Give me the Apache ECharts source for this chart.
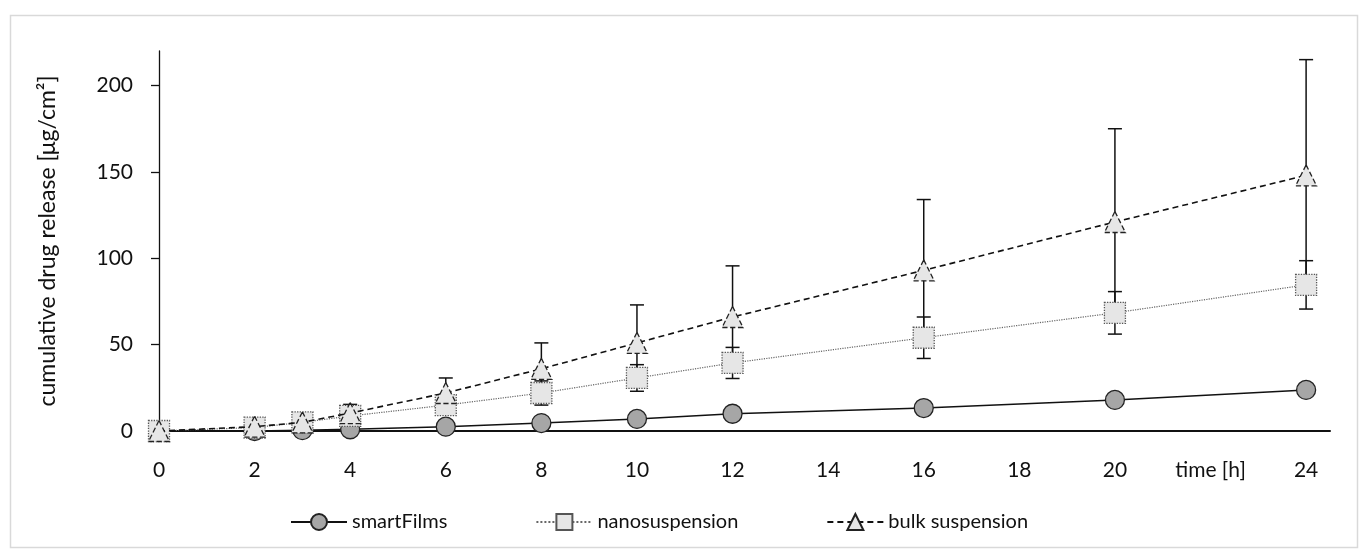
<!DOCTYPE html>
<html>
<head>
<meta charset="utf-8">
<script src="https://cdn.jsdelivr.net/npm/echarts@6/dist/echarts.min.js"></script>
<style>
html,body{margin:0;padding:0;background:#fff;}
#chart{width:1363px;height:558px;}
</style>
</head>
<body>
<div id="chart"></div>
<script>
// ---- data ----
const times = [0, 2, 3, 4, 6, 8, 10, 12, 16, 20, 24];
const smartFilms = [0, 0, 0.5, 1, 2.5, 4.6, 7, 10, 13.3, 18, 23.8];
const nanosuspension = [0, 2, 5, 8.7, 15, 22, 30.7, 39.4, 54, 68.4, 84.6];
const nanosuspensionSd = [0, 0.5, 1, 1.5, 2.5, 7, 7.7, 9, 12, 12.3, 14];
const bulkSuspension = [0, 2.5, 5, 10.4, 22, 36, 51, 66, 93, 121, 148];
const bulkSuspensionSd = [0, 0.5, 1, 5, 8.7, 15, 22, 29.6, 41, 54, 67];
const xTickValues = [0, 2, 4, 6, 8, 10, 12, 14, 16, 18, 20, 22, 24];
const xTickLabels = ['0', '2', '4', '6', '8', '10', '12', '14', '16', '18', '20', 'time [h]', '24'];
const yTickValues = [0, 50, 100, 150, 200];
const seriesNames = ['smartFilms', 'nanosuspension', 'bulk suspension'];
const yAxisTitle = 'cumulative drug release [μg/cm²]';

const FONT = 'Lato';
const pairs = (ys) => times.map((t, i) => [t, ys[i]]);
const errData = (ys, sd) => times.map((t, i) => [t, ys[i] - sd[i], ys[i] + sd[i]]);

function errorRender(params, api) {
  const x = api.value(0);
  const lo = api.coord([x, api.value(1)]);
  const hi = api.coord([x, api.value(2)]);
  const w = 7;
  const st = { stroke: '#111', lineWidth: 1.5 };
  return {
    type: 'group',
    children: [
      { type: 'line', shape: { x1: lo[0], y1: lo[1], x2: hi[0], y2: hi[1] }, style: st },
      { type: 'line', shape: { x1: hi[0] - w, y1: hi[1], x2: hi[0] + w, y2: hi[1] }, style: st },
      { type: 'line', shape: { x1: lo[0] - w, y1: lo[1], x2: lo[0] + w, y2: lo[1] }, style: st }
    ]
  };
}

const chart = echarts.init(document.getElementById('chart'), null, { renderer: 'canvas' });
chart.setOption({
  animation: false,
  backgroundColor: '#fff',
  textStyle: { fontFamily: FONT },
  grid: { left: 159, right: 33, top: 51, bottom: 127, containLabel: false },
  graphic: [{
    type: 'rect', left: 8, top: 13, z: -10,
    shape: { width: 1347, height: 532 },
    style: { fill: 'none', stroke: '#d9d9d9', lineWidth: 1.5 }
  }],
  legend: {
    bottom: 21, left: 285,
    itemWidth: 56, itemHeight: 20, itemGap: 88,
    textStyle: { fontFamily: FONT, fontSize: 20, color: '#111' },
    data: seriesNames
  },
  xAxis: {
    type: 'value', min: 0, max: 24.5, interval: 2,
    axisLine: { show: true, lineStyle: { color: '#111', width: 2 } },
    axisTick: { show: false },
    splitLine: { show: false },
    axisLabel: {
      customValues: xTickValues,
      margin: 29, fontSize: 21, color: '#111', fontFamily: FONT,
      formatter: (v) => { const i = xTickValues.indexOf(v); return i >= 0 ? xTickLabels[i] : ''; }
    }
  },
  yAxis: {
    type: 'value', min: 0, max: 220, interval: 50,
    name: yAxisTitle, nameLocation: 'middle', nameGap: 100,
    nameTextStyle: { fontFamily: FONT, fontSize: 23, color: '#111' },
    axisLine: { show: true, lineStyle: { color: '#111', width: 1.3 } },
    axisTick: { show: true, length: 8, customValues: [50, 100, 150, 200], lineStyle: { color: '#111', width: 1.3 } },
    splitLine: { show: false },
    axisLabel: { customValues: yTickValues, margin: 26, fontSize: 21, color: '#111', fontFamily: FONT }
  },
  series: [
    { type: 'custom', name: 'nanoErr', renderItem: errorRender, data: errData(nanosuspension, nanosuspensionSd), z: 1, silent: true },
    { type: 'custom', name: 'bulkErr', renderItem: errorRender, data: errData(bulkSuspension, bulkSuspensionSd), z: 1, silent: true },
    {
      type: 'line', name: seriesNames[0], data: pairs(smartFilms), z: 3,
      symbol: 'circle', symbolSize: 19,
      lineStyle: { color: '#111', width: 1.5, type: 'solid' },
      itemStyle: { color: '#a6a6a6', borderColor: '#222', borderWidth: 1.3 }
    },
    {
      type: 'line', name: seriesNames[1], data: pairs(nanosuspension), z: 4,
      symbol: 'rect', symbolSize: 21,
      lineStyle: { color: '#666', width: 1.2, type: 'dotted' },
      itemStyle: { color: '#e6e6e6', borderColor: '#555', borderWidth: 1.3, borderType: 'dotted' }
    },
    {
      type: 'line', name: seriesNames[2], data: pairs(bulkSuspension), z: 5,
      symbol: 'triangle', symbolSize: 21,
      lineStyle: { color: '#111', width: 1.6, type: [6, 4] },
      itemStyle: { color: '#e6e6e6', borderColor: '#222', borderWidth: 1.3, borderType: 'dashed' }
    }
  ]
});
</script>
</body>
</html>
